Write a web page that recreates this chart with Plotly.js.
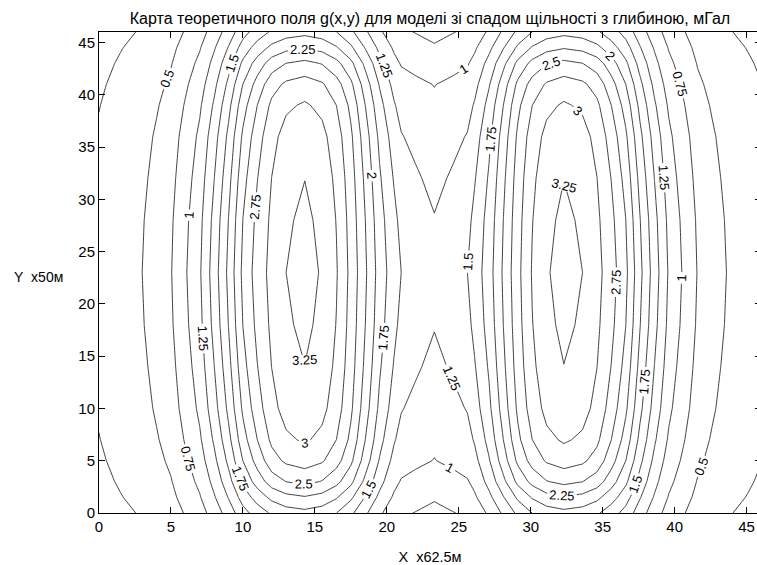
<!DOCTYPE html>
<html><head><meta charset="utf-8">
<script src="https://cdn.plot.ly/plotly-3.0.1.min.js"></script>
<style>html,body{margin:0;padding:0;overflow:hidden;background:#fff}#chart{width:762px;height:565px}</style>
</head><body><div id="chart"></div>
<script>
// grid coordinates (x in units of 62.5 m, y in units of 50 m)
const xGrid = [0,1.5,3,4,5,6,7,8,9,10,11,12,13,14.3,15.5,16.5,17.5,18.5,19.5,20.5,21,22,23.3,24.6,25.6,26.1,27.1,28.1,29.1,30.1,31.1,32.3,33.6,34.6,35.6,36.6,37.6,38.6,39.6,40.6,41.6,42.6,43.6,45.1,46.6];
const yGrid = [0,1.5,3,5,7,10,14,18,23,28,32,36,39,41,43,44.5,46];
const gY23 = [0.310,0.405,0.500,0.610,0.738,0.975,1.220,1.625,2.060,2.560,2.860,3.080,3.250,3.330,3.230,3.020,2.680,2.290,1.890,1.610,1.500,1.440,1.380,1.440,1.500,1.610,1.890,2.290,2.680,3.020,3.230,3.330,3.250,3.080,2.860,2.560,2.060,1.625,1.220,0.975,0.738,0.610,0.500,0.405,0.310];
const gY18 = [0.301,0.393,0.485,0.592,0.716,0.946,1.183,1.576,2.006,2.504,2.814,3.049,3.218,3.297,3.198,2.990,2.653,2.253,1.848,1.562,1.434,1.357,1.263,1.357,1.434,1.562,1.848,2.253,2.653,2.990,3.198,3.297,3.218,3.049,2.814,2.504,2.006,1.576,1.183,0.946,0.716,0.592,0.485,0.393,0.301];
const gY14 = [0.285,0.373,0.460,0.561,0.679,0.897,1.122,1.495,1.918,2.412,2.743,3.003,3.169,3.247,3.149,2.945,2.613,2.196,1.780,1.481,1.358,1.282,1.187,1.282,1.358,1.481,1.780,2.196,2.613,2.945,3.149,3.247,3.169,3.003,2.743,2.412,1.918,1.495,1.122,0.897,0.679,0.561,0.460,0.373,0.285];
const gY10 = [0.267,0.348,0.430,0.525,0.635,0.839,1.049,1.398,1.809,2.294,2.640,2.926,3.088,3.164,3.069,2.869,2.546,2.114,1.693,1.385,1.264,1.188,1.090,1.188,1.264,1.385,1.693,2.114,2.546,2.869,3.069,3.164,3.088,2.926,2.640,2.294,1.809,1.398,1.049,0.839,0.635,0.525,0.430,0.348,0.267];
const gY7 = [0.245,0.320,0.395,0.482,0.583,0.770,0.964,1.284,1.677,2.145,2.500,2.803,2.958,3.030,2.939,2.748,2.439,2.001,1.584,1.272,1.170,1.109,1.035,1.109,1.170,1.272,1.584,2.001,2.439,2.748,2.939,3.030,2.958,2.803,2.500,2.145,1.677,1.284,0.964,0.770,0.583,0.482,0.395,0.320,0.245];
const gY5 = [0.226,0.296,0.365,0.445,0.539,0.712,0.891,1.186,1.557,2.002,2.348,2.649,2.795,2.864,2.778,2.597,2.305,1.880,1.478,1.175,1.091,1.044,0.994,1.044,1.091,1.175,1.478,1.880,2.305,2.597,2.778,2.864,2.795,2.649,2.348,2.002,1.557,1.186,0.891,0.712,0.539,0.445,0.365,0.296,0.226];
const gY3 = [0.205,0.267,0.330,0.403,0.487,0.644,0.805,1.073,1.405,1.802,2.108,2.372,2.503,2.564,2.487,2.325,2.064,1.688,1.331,1.063,0.983,0.936,0.883,0.936,0.983,1.063,1.331,1.688,2.064,2.325,2.487,2.564,2.503,2.372,2.108,1.802,1.405,1.073,0.805,0.644,0.487,0.403,0.330,0.267,0.205];
const gY1 = [0.186,0.243,0.300,0.366,0.443,0.585,0.732,0.975,1.265,1.608,1.856,2.064,2.178,2.231,2.164,2.023,1.796,1.486,1.187,0.966,0.885,0.835,0.773,0.835,0.885,0.966,1.187,1.486,1.796,2.023,2.164,2.231,2.178,2.064,1.856,1.608,1.265,0.975,0.732,0.585,0.443,0.366,0.300,0.243,0.186];
const gY0 = [0.164,0.215,0.265,0.323,0.391,0.517,0.647,0.861,1.112,1.408,1.616,1.786,1.885,1.931,1.873,1.752,1.554,1.294,1.040,0.853,0.784,0.742,0.690,0.742,0.784,0.853,1.040,1.294,1.554,1.752,1.873,1.931,1.885,1.786,1.616,1.408,1.112,0.861,0.647,0.517,0.391,0.323,0.265,0.215,0.164];
const gY28 = gY18, gY32 = gY14, gY36 = gY10, gY39 = gY7, gY41 = gY5, gY43 = gY3, gY44 = gY1, gY46 = gY0;
const tickVals = [0,5,10,15,20,25,30,35,40,45];

const zRows = [gY0,gY1,gY3,gY5,gY7,gY10,gY14,gY18,gY23,gY28,gY32,gY36,gY39,gY41,gY43,gY44,gY46];

const FONT = 'Arial, Liberation Sans, sans-serif';
const trace = {
  type: 'contour', x: xGrid, y: yGrid, z: zRows,
  autocontour: false,
  contours: {start: 0.25, end: 3.25, size: 0.25, coloring: 'lines', showlabels: true,
    labelfont: {family: FONT, size: 13, color: '#000'}},
  colorscale: [[0,'#111'],[1,'#111']], showscale: false,
  line: {width: 0.8, smoothing: 0},
  hoverinfo: 'skip'
};
const axisBase = {range: [0,46], tickvals: tickVals, ticks: 'inside', ticklen: 6, tickcolor: '#000',
  showline: true, linecolor: '#000', linewidth: 1, mirror: 'ticks', showgrid: false, zeroline: false,
  tickfont: {family: FONT, size: 15, color: '#000'}};
const layout = {
  width: 762, height: 565, margin: {l: 99, r: 1, t: 32, b: 52},
  paper_bgcolor: '#fff', plot_bgcolor: '#fff', showlegend: false,
  font: {family: FONT, color: '#000'},
  title: {text: 'Карта теоретичного поля g(x,y) для моделі зі спадом щільності з глибиною, мГал',
    font: {size: 16, color: '#000'}, x: 0.5, xref: 'paper', xanchor: 'center',
    y: 1 - 18/565, yref: 'container', yanchor: 'middle'},
  xaxis: Object.assign({}, axisBase, {title: {text: 'X\u00a0 x62.5м', font: {size: 14.5}, standoff: 18}}),
  yaxis: Object.assign({}, axisBase),
  annotations: [{text: 'Y\u00a0 x50м', xref: 'paper', yref: 'paper', x: (12-99)/662, y: (513-277)/481,
    xanchor: 'left', yanchor: 'middle', showarrow: false, font: {size: 14, color: '#000'}}]
};
Plotly.newPlot('chart', [trace], layout, {displayModeBar: false, staticPlot: true});
</script></body></html>
